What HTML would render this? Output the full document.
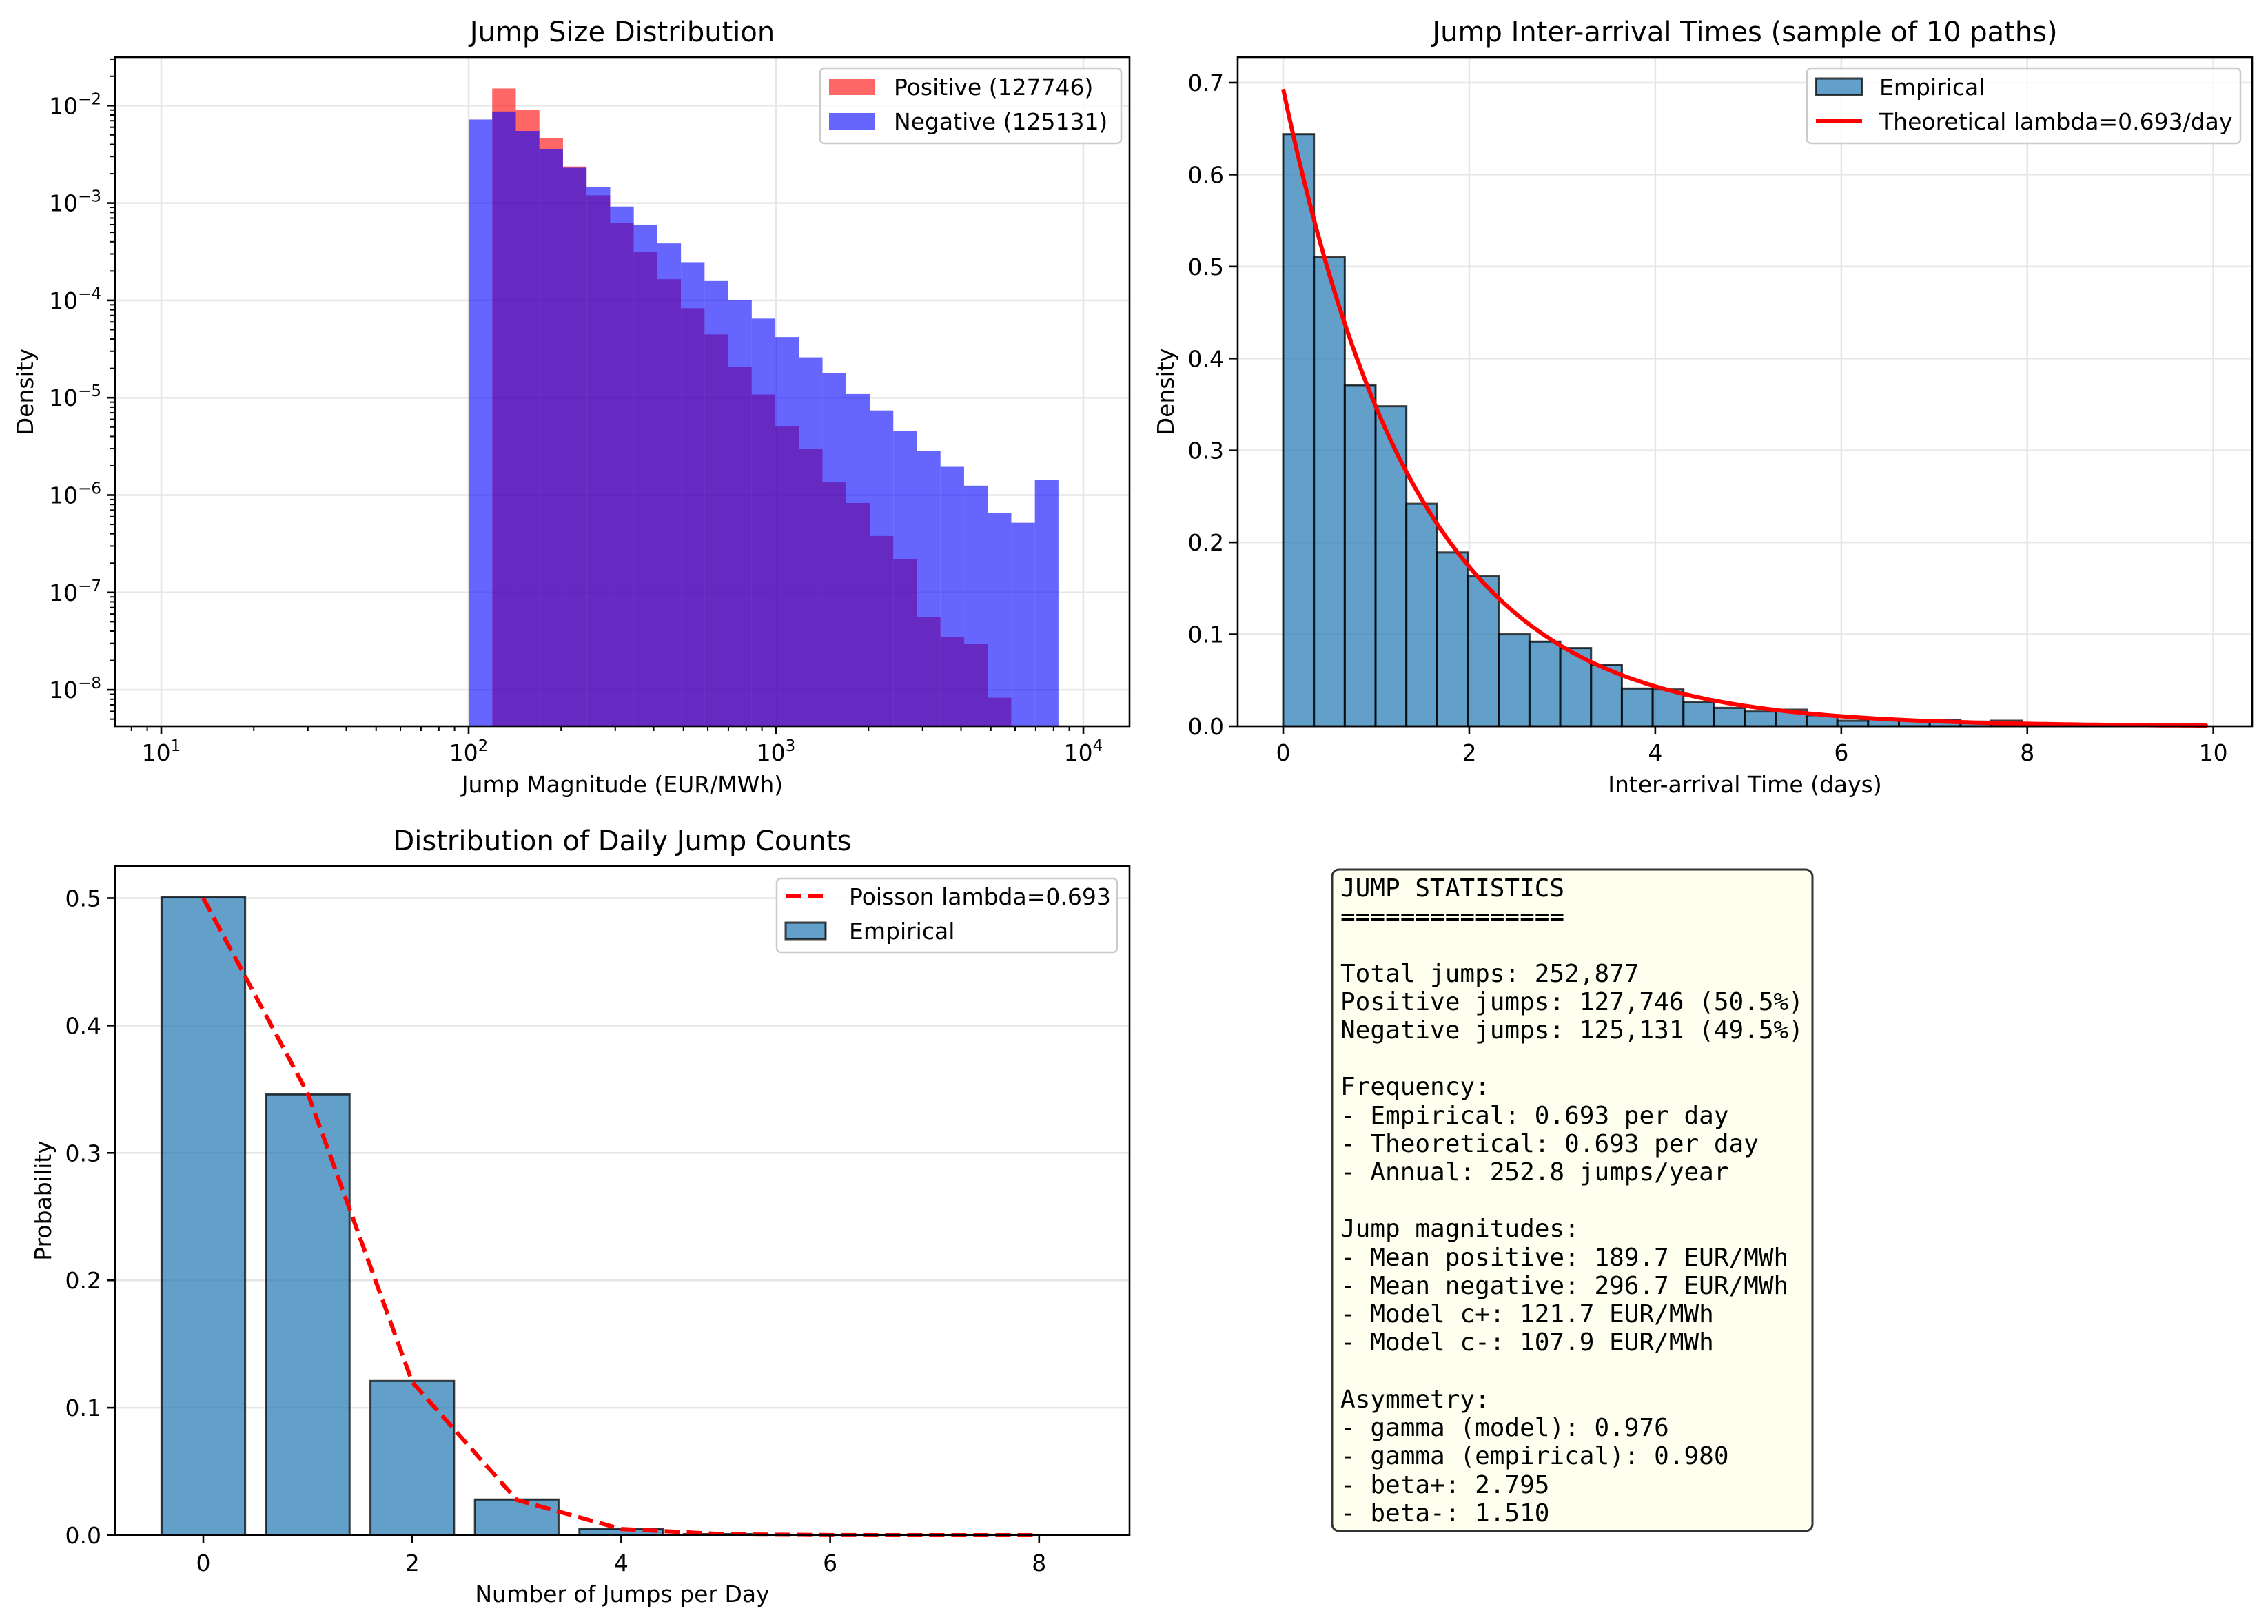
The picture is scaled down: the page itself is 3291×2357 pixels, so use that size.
<!DOCTYPE html>
<html><head><meta charset="utf-8">
<style>
html,body{margin:0;padding:0;background:#fff;}
svg{display:block;font-family:"DejaVu Sans","Liberation Sans",sans-serif;}
</style></head>
<body>
<svg id="fig" width="3291" height="2357" viewBox="0 0 3291 2357" xmlns="http://www.w3.org/2000/svg">
<rect x="0" y="0" width="3291" height="2357" fill="#fff"/>
<g id="p1"></g>
<g id="p2"></g>
<g id="p3"></g>
<g id="p4">
  <rect x="1933" y="1262" width="697" height="960" rx="10" ry="10" fill="#ffffef" stroke="#333" stroke-width="3"/>
  <text font-family="'DejaVu Sans Mono','Liberation Mono',monospace" font-size="36" fill="#000"><tspan x="1945" y="1301">JUMP STATISTICS</tspan><tspan x="1945" y="1342">===============</tspan><tspan x="1945" y="1425">Total jumps: 252,877</tspan><tspan x="1945" y="1466">Positive jumps: 127,746 (50.5%)</tspan><tspan x="1945" y="1507">Negative jumps: 125,131 (49.5%)</tspan><tspan x="1945" y="1589">Frequency:</tspan><tspan x="1945" y="1631">- Empirical: 0.693 per day</tspan><tspan x="1945" y="1672">- Theoretical: 0.693 per day</tspan><tspan x="1945" y="1713">- Annual: 252.8 jumps/year</tspan><tspan x="1945" y="1795">Jump magnitudes:</tspan><tspan x="1945" y="1837">- Mean positive: 189.7 EUR/MWh</tspan><tspan x="1945" y="1878">- Mean negative: 296.7 EUR/MWh</tspan><tspan x="1945" y="1919">- Model c+: 121.7 EUR/MWh</tspan><tspan x="1945" y="1960">- Model c-: 107.9 EUR/MWh</tspan><tspan x="1945" y="2043">Asymmetry:</tspan><tspan x="1945" y="2084">- gamma (model): 0.976</tspan><tspan x="1945" y="2125">- gamma (empirical): 0.980</tspan><tspan x="1945" y="2167">- beta+: 2.795</tspan><tspan x="1945" y="2208">- beta-: 1.510</tspan></text>
</g>
</svg>
<script>
// ---------- Panel 1 data ----------
const p1BinLo = 100, p1BinHi = 8300, p1BinCount = 25;
const p1Negative = [7.2e-3,8.7e-3,5.5e-3,3.6e-3,2.3e-3,1.45e-3,9.2e-4,6.0e-4,3.85e-4,2.47e-4,1.58e-4,1.0e-4,6.5e-5,4.2e-5,2.6e-5,1.78e-5,1.09e-5,7.4e-6,4.55e-6,2.83e-6,1.95e-6,1.25e-6,6.6e-7,5.2e-7,1.42e-6];
const p1PositiveStartBin = 1;
const p1Positive = [1.5e-2,9.06e-3,4.6e-3,2.37e-3,1.2e-3,6.2e-4,3.12e-4,1.65e-4,8.3e-5,4.47e-5,2.07e-5,1.08e-5,5.1e-6,3.0e-6,1.35e-6,8.3e-7,3.8e-7,2.2e-7,5.6e-8,3.5e-8,2.96e-8,8.3e-9];
const p1XTicks = [1,2,3,4];
const p1YTicks = [-8,-7,-6,-5,-4,-3,-2];
// ---------- Panel 2 data ----------
const p2BinStart = 0, p2BinWidth = 0.331;
const p2Density = [0.644,0.510,0.371,0.348,0.242,0.189,0.163,0.100,0.092,0.085,0.067,0.041,0.040,0.026,0.020,0.016,0.018,0.012,0.006,0.008,0.007,0.007,0.005,0.006,0.003,0.002,0.002,0.001,0.001,0.001];
const p2Lambda = 0.693, p2CurveMax = 9.93;
const p2XTicks = [0,2,4,6,8,10];
const p2YTicks = [0.0,0.1,0.2,0.3,0.4,0.5,0.6,0.7];
// ---------- Panel 3 data ----------
const p3Counts = [0,1,2,3,4,5,6,7,8];
const p3Empirical = [0.501,0.346,0.121,0.028,0.005,0.0008,0.0001,0.00002,0.00001];
const p3Poisson = [0.500,0.3466,0.1201,0.0277,0.0048,0.00067,0.00008,0.000008,0.0000007];
const p3XTicks = [0,2,4,6,8];
const p3YTicks = [0.0,0.1,0.2,0.3,0.4,0.5];

const NS = "http://www.w3.org/2000/svg";
function mk(parent, tag, attrs, text){
  const e = document.createElementNS(NS, tag);
  for (const k in attrs) e.setAttribute(k, attrs[k]);
  if (text !== undefined) e.textContent = text;
  parent.appendChild(e);
  return e;
}
const FS = 33;

// ================= Panel 1 =================
(function(){
  const g = document.getElementById('p1');
  const L=167,R=1639,T=83,B=1054;
  const lx = v => 234 + (Math.log10(v)-1)*446;
  const ly = v => 153.3 + (-2 - Math.log10(v))*141.3;
  for (const t of p1XTicks){ const x=lx(Math.pow(10,t));
    const e=mk(g,'line',{x1:x,x2:x,y1:T,y2:B,stroke:'#e6e6e6','stroke-width':2.5});
      }
  for (const t of p1YTicks){ const y=ly(Math.pow(10,t));
    const e=mk(g,'line',{x1:L,x2:R,y1:y,y2:y,stroke:'#e6e6e6','stroke-width':2.5});
      }
  const edges=[]; for(let i=0;i<=p1BinCount;i++) edges.push(p1BinLo*Math.pow(p1BinHi/p1BinLo,i/p1BinCount));
  p1Positive.forEach((v,i)=>{ const b=i+p1PositiveStartBin; const x0=lx(edges[b]), x1=lx(edges[b+1]); const y=ly(v);
    const e=mk(g,'rect',{x:x0,y:y,width:x1-x0,height:B-y,fill:'#ff0000','fill-opacity':0.6});
      });
  p1Negative.forEach((v,i)=>{ const x0=lx(edges[i]), x1=lx(edges[i+1]); const y=ly(v);
    const e=mk(g,'rect',{x:x0,y:y,width:x1-x0,height:B-y,fill:'#0000ff','fill-opacity':0.6});
      });
  const fr=mk(g,'rect',{x:L,y:T,width:R-L,height:B-T,fill:'none',stroke:'#000','stroke-width':2.6});
   
  for(let d=0; d<=4; d++){ for(let m=1;m<=9;m++){ const v=m*Math.pow(10,d); const x=lx(v); if(x<L||x>R) continue;
    const len = m===1?12:7; mk(g,'line',{x1:x,x2:x,y1:B,y2:B+len,stroke:'#000','stroke-width':m===1?2.6:2}); } }
  for (const t of p1XTicks){ const x=lx(Math.pow(10,t));
    const e=mk(g,'text',{x:x,y:1104,'font-size':FS,'text-anchor':'middle'});
     
    mk(e,'tspan',{},'10'); mk(e,'tspan',{dy:-14,'font-size':23},String(t)); }
  for(let d=-9; d<=-1; d++){ for(let m=1;m<=9;m++){ const v=m*Math.pow(10,d); const y=ly(v); if(y<T||y>B) continue;
    const len = m===1?12:7; mk(g,'line',{x1:L-len,x2:L,y1:y,y2:y,stroke:'#000','stroke-width':m===1?2.6:2}); } }
  for (const t of p1YTicks){ const y=ly(Math.pow(10,t));
    const e=mk(g,'text',{x:L-20,y:y+12,'font-size':FS,'text-anchor':'end'});
     
    mk(e,'tspan',{},'10'); mk(e,'tspan',{dy:-14,'font-size':23},'\u2212'+Math.abs(t)); }
  let e;
  e=mk(g,'text',{x:(L+R)/2,y:60,'font-size':40,'text-anchor':'middle'},'Jump Size Distribution');
   
  e=mk(g,'text',{x:(L+R)/2,y:1150,'font-size':FS,'text-anchor':'middle'},'Jump Magnitude (EUR/MWh)');
   
  e=mk(g,'text',{x:0,y:0,'font-size':FS,'text-anchor':'middle',transform:`translate(48,${(T+B)/2}) rotate(-90)`},'Density');
   
  const lg=mk(g,'g',{});
   
  mk(lg,'rect',{x:1190,y:99,width:437,height:109,rx:6,fill:'#fff','fill-opacity':0.8,stroke:'#ccc','stroke-width':2.5});
  e=mk(lg,'rect',{x:1203,y:114,width:67,height:24,fill:'#ff0000','fill-opacity':0.6});
   
  e=mk(lg,'text',{x:1297,y:138,'font-size':FS},'Positive (127746)');
   
  e=mk(lg,'rect',{x:1203,y:164,width:67,height:24,fill:'#0000ff','fill-opacity':0.6});
   
  e=mk(lg,'text',{x:1297,y:188,'font-size':FS},'Negative (125131)');
   
})();

// ================= Panel 2 =================
(function(){
  const g=document.getElementById('p2');
  const L=1796,R=3268,T=83,B=1054;
  const sx=v=>1862+v*134.97, sy=v=>1054-v*1334.3;
  for(const t of p2XTicks){ const x=sx(t); const e=mk(g,'line',{x1:x,x2:x,y1:T,y2:B,stroke:'#e6e6e6','stroke-width':2.5});
      }
  for(const t of p2YTicks){ const y=sy(t); const e=mk(g,'line',{x1:L,x2:R,y1:y,y2:y,stroke:'#e6e6e6','stroke-width':2.5});
      }
  p2Density.forEach((v,i)=>{ const x0=sx(p2BinStart+i*p2BinWidth), x1=sx(p2BinStart+(i+1)*p2BinWidth); const y=sy(v);
    const e=mk(g,'rect',{x:x0,y:y,width:x1-x0,height:B-y,fill:'#1f77b4','fill-opacity':0.7,stroke:'#000','stroke-opacity':0.75,'stroke-width':3});
      });
  let pts=[]; for(let i=0;i<=200;i++){ const x=p2CurveMax*i/200; pts.push(sx(x).toFixed(1)+','+sy(p2Lambda*Math.exp(-p2Lambda*x)).toFixed(1)); }
  let e=mk(g,'polyline',{points:pts.join(' '),fill:'none',stroke:'#ff0000','stroke-width':6});
   
  e=mk(g,'rect',{x:L,y:T,width:R-L,height:B-T,fill:'none',stroke:'#000','stroke-width':2.6});
   
  for(const t of p2XTicks){ const x=sx(t); mk(g,'line',{x1:x,x2:x,y1:B,y2:B+12,stroke:'#000','stroke-width':2.6});
    e=mk(g,'text',{x:x,y:1104,'font-size':FS,'text-anchor':'middle'},String(t));
      }
  for(const t of p2YTicks){ const y=sy(t); mk(g,'line',{x1:L-12,x2:L,y1:y,y2:y,stroke:'#000','stroke-width':2.6});
    e=mk(g,'text',{x:L-20,y:y+12,'font-size':FS,'text-anchor':'end'},t.toFixed(1));
      }
  e=mk(g,'text',{x:(L+R)/2,y:60,'font-size':40,'text-anchor':'middle'},'Jump Inter-arrival Times (sample of 10 paths)');
   
  e=mk(g,'text',{x:(L+R)/2,y:1150,'font-size':FS,'text-anchor':'middle'},'Inter-arrival Time (days)');
   
  e=mk(g,'text',{x:0,y:0,'font-size':FS,'text-anchor':'middle',transform:`translate(1703,${(T+B)/2}) rotate(-90)`},'Density');
   
  const lg=mk(g,'g',{});
   
  mk(lg,'rect',{x:2622,y:99,width:629,height:109,rx:6,fill:'#fff','fill-opacity':0.8,stroke:'#ccc','stroke-width':2.5});
  e=mk(lg,'rect',{x:2635,y:114,width:67,height:24,fill:'#1f77b4','fill-opacity':0.7,stroke:'#000','stroke-opacity':0.75,'stroke-width':3});
   
  e=mk(lg,'text',{x:2727,y:138,'font-size':FS},'Empirical');
   
  e=mk(lg,'line',{x1:2635,x2:2702,y1:176,y2:176,stroke:'#ff0000','stroke-width':6});
   
  e=mk(lg,'text',{x:2727,y:188,'font-size':FS},'Theoretical lambda=0.693/day');
   
})();

// ================= Panel 3 =================
(function(){
  const g=document.getElementById('p3');
  const L=167,R=1639,T=1257,B=2228;
  const sx=v=>295+v*151.6, sy=v=>2228-v*1849;
  let e;
  for(const t of p3YTicks){ const y=sy(t); e=mk(g,'line',{x1:L,x2:R,y1:y,y2:y,stroke:'#e6e6e6','stroke-width':2.5});
      }
  p3Counts.forEach((c,i)=>{ const x0=sx(c-0.4), x1=sx(c+0.4); const y=sy(p3Empirical[i]);
    e=mk(g,'rect',{x:x0,y:y,width:x1-x0,height:B-y,fill:'#1f77b4','fill-opacity':0.7,stroke:'#000','stroke-opacity':0.75,'stroke-width':3});
      });
  const pts=p3Counts.map((c,i)=>sx(c).toFixed(1)+','+sy(p3Poisson[i]).toFixed(1));
  e=mk(g,'polyline',{points:pts.join(' '),fill:'none',stroke:'#ff0000','stroke-width':6,'stroke-dasharray':'22,10'});
   
  e=mk(g,'rect',{x:L,y:T,width:R-L,height:B-T,fill:'none',stroke:'#000','stroke-width':2.6});
   
  for(const t of p3XTicks){ const x=sx(t); mk(g,'line',{x1:x,x2:x,y1:B,y2:B+12,stroke:'#000','stroke-width':2.6});
    e=mk(g,'text',{x:x,y:2280,'font-size':FS,'text-anchor':'middle'},String(t));
      }
  for(const t of p3YTicks){ const y=sy(t); mk(g,'line',{x1:L-12,x2:L,y1:y,y2:y,stroke:'#000','stroke-width':2.6});
    e=mk(g,'text',{x:L-20,y:y+12,'font-size':FS,'text-anchor':'end'},t.toFixed(1));
      }
  e=mk(g,'text',{x:(L+R)/2,y:1234,'font-size':40,'text-anchor':'middle'},'Distribution of Daily Jump Counts');
   
  e=mk(g,'text',{x:(L+R)/2,y:2325,'font-size':FS,'text-anchor':'middle'},'Number of Jumps per Day');
   
  e=mk(g,'text',{x:0,y:0,'font-size':FS,'text-anchor':'middle',transform:`translate(74,${(T+B)/2}) rotate(-90)`},'Probability');
   
  const lg=mk(g,'g',{});
   
  mk(lg,'rect',{x:1127,y:1275,width:494,height:107,rx:6,fill:'#fff','fill-opacity':0.8,stroke:'#ccc','stroke-width':2.5});
  e=mk(lg,'line',{x1:1140,x2:1198,y1:1301,y2:1301,stroke:'#ff0000','stroke-width':6,'stroke-dasharray':'22,10'});
   
  e=mk(lg,'text',{x:1232,y:1313,'font-size':FS},'Poisson lambda=0.693');
   
  e=mk(lg,'rect',{x:1140,y:1339,width:58,height:24,fill:'#1f77b4','fill-opacity':0.7,stroke:'#000','stroke-opacity':0.75,'stroke-width':3});
   
  e=mk(lg,'text',{x:1232,y:1363,'font-size':FS},'Empirical');
   
})();
</script>
</body></html>
